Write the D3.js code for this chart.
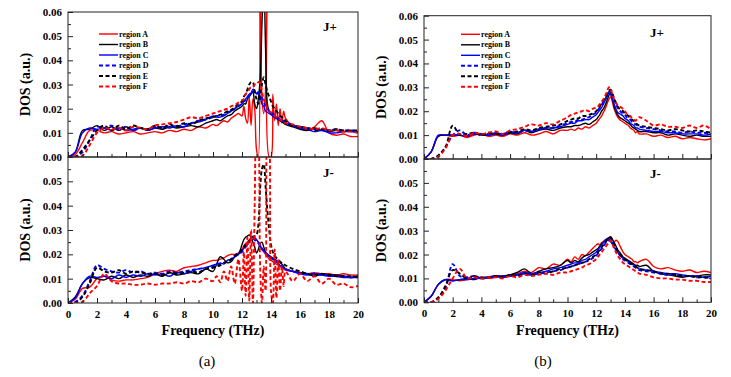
<!DOCTYPE html>
<html>
<head>
<meta charset="utf-8">
<script src="https://cdn.jsdelivr.net/npm/d3@7"></script>
<style>
  body { margin: 0; background: #fff; }
  svg { display: block; font-family: "Liberation Serif", "Times New Roman", serif; }
  .tick text { font-family: "Liberation Serif", "Times New Roman", serif; font-weight: bold; font-size: 11px; fill: #000; }
  .tick line { stroke: #222; }
</style>
</head>
<body>
<div id="chart"></div>
<script>
// frequency grid (THz), finer around the 13 THz peak
var freq = [0, 0.5, 1, 1.5, 2, 2.5, 3, 3.5, 4, 4.5, 5, 5.5, 6, 6.5, 7, 7.5, 8, 8.5, 9, 9.5, 10,
  10.25, 10.5, 10.75, 11, 11.25, 11.5, 11.75, 12,
  12.125, 12.25, 12.375, 12.5, 12.625, 12.75, 12.875, 13, 13.125, 13.25, 13.375, 13.5,
  13.625, 13.75, 13.875, 14, 14.125, 14.25, 14.375, 14.5, 14.625, 14.75, 14.875, 15,
  15.5, 16, 16.5, 17, 17.5, 18, 18.5, 19, 19.5, 20];

// DOS, in units of 0.001 a.u.
// (a) J+
var aPlusA = [0, 1, 6, 11, 11, 10, 10.5, 9.5, 10, 10.5, 9.5, 10, 10.5, 10, 11, 10.5, 11.5, 11, 12.5, 12, 13.5,
  13, 14, 15, 14.5, 16, 17, 18, 17,
  21, 16, 14, 25, 13, 24, 20, 3, 0, 80, 25, 18, 28, 80, 0, 0, 26, 15, 22, 13, 20, 14, 19, 16,
  13, 12, 11, 12.5, 15, 10, 9, 9.5, 8.5, 8.5];
var aPlusB = [0, 2, 11, 11.5, 13, 11, 12.5, 11, 12.5, 11, 12, 11, 12, 11.5, 12.5, 12, 12.5, 13, 12.5, 14, 15,
  15.5, 15, 16, 17, 17.5, 19, 20, 21,
  22, 22, 24, 25, 26, 27, 22, 20, 24, 32, 55, 75, 45, 22, 19, 18, 17, 16.5, 16, 15.5, 15, 14.5, 14, 13.5,
  12.5, 11.5, 11, 12, 11, 10.5, 11, 10.5, 11, 10.5];
var aPlusC = [0, 2, 10, 12, 11.5, 12, 11, 12, 11, 11.5, 12, 11, 12, 12.5, 12, 13, 12.5, 14, 14.5, 15.5, 17,
  16.5, 16.5, 17, 18, 19, 20, 21, 22,
  23, 24, 25, 26, 26.5, 28, 27.5, 26, 27, 25, 22, 21, 19, 18.5, 18, 17.5, 17, 16.5, 16, 15.5, 15.5, 15, 14.5, 14,
  13, 12, 11.5, 10.5, 11, 10, 10, 10.5, 10.5, 10];
var aPlusD = [0, 0, 2, 7, 12.5, 12, 13, 11.5, 12.5, 11, 12, 11.5, 12.5, 12, 13, 12.5, 13.5, 14, 15, 15.5, 16.5,
  17, 17, 17.5, 18.5, 19, 20, 21, 22,
  23, 23.5, 24.5, 25.5, 26.5, 27, 27.5, 27, 26, 25.5, 24.5, 23, 21, 20, 19, 18.5, 18, 17, 16.5, 16, 15.5, 15, 15, 14.5,
  13, 12.5, 12, 11.5, 11, 11, 11.5, 11, 11, 10.5];
var aPlusE = [0, 0, 3, 7, 11, 13, 11, 13, 11.5, 13, 12, 11.5, 13, 12, 13.5, 12.5, 14, 13.5, 15, 16, 16.5,
  17, 17.5, 18, 19, 19.5, 20.5, 22, 23,
  25, 26, 28, 30, 31, 31, 27, 24, 22, 26, 30, 33, 30, 27, 25, 23, 21, 20, 19, 18, 17, 16.5, 16, 15,
  13, 12.5, 12, 11, 11.5, 11, 11.5, 11, 11, 11];
var aPlusF = [0, 0, 0.5, 5, 10, 12, 11.5, 12, 11, 12.5, 12, 11.5, 13, 13.5, 14, 14.5, 15.5, 16.5, 16, 17, 18,
  18.5, 19, 19.5, 20, 21, 21.5, 22.5, 23.5,
  24, 26, 27, 28, 29, 29, 30, 30, 31, 30.5, 27, 24, 22, 20, 19, 18.5, 18, 17, 16.5, 16, 15.5, 15, 14.5, 14,
  13.5, 12.5, 12, 11.5, 12, 11, 11, 10.5, 10.5, 10];

// (a) J-
var aMinusA = [0, 1.5, 6, 6.5, 10, 11, 9.5, 9, 9.5, 9.5, 10, 10.5, 12, 13, 13.5, 13, 14.5, 15, 15.5, 16.5, 17.5,
  17.5, 18, 18.5, 19.5, 20, 20, 20.5, 22,
  23.5, 24.5, 25, 26, 26.5, 26, 26.5, 26, 25, 24, 22, 21, 20, 19, 18, 17.5, 17, 16.5, 16, 15.5, 15, 14.5, 14, 13.5,
  13, 12.5, 12, 12.5, 12, 12, 11.5, 12, 11.5, 11.5];
var aMinusB = [0, 2.5, 8, 10.5, 10, 9.5, 11, 10, 11.5, 10.5, 11.5, 11, 12, 11, 12.5, 11.5, 12, 12.5, 12, 14, 13,
  16, 19, 18, 16.5, 17, 19, 20, 24,
  26, 27, 27.5, 28, 27, 25, 23, 20.5, 22, 24.5, 25, 23, 21, 20, 19.5, 19, 18.5, 18, 17.5, 17, 16.5, 16, 15, 14,
  13, 12.5, 12, 11, 12, 11.5, 11.5, 11, 10.5, 11];
var aMinusC = [0, 2, 8, 11, 10.5, 11, 10, 11.5, 10.5, 11.5, 11, 12, 11.5, 12, 11, 12.5, 12, 13, 14, 14.5, 15.5,
  16, 16.5, 16, 17.5, 18, 19, 20, 21.5,
  22.5, 23.5, 24.5, 25.5, 26.5, 27.5, 27, 26, 25, 23.5, 22, 21.5, 20.5, 20, 19, 18.5, 18, 17.5, 17, 16, 15.5, 15, 14.5, 14,
  13, 12, 11.5, 12, 11.5, 11, 11, 10.5, 10.5, 10.5];
var aMinusD = [0, 0.5, 3, 9, 15.5, 14, 13, 12.5, 13.5, 12.5, 13, 12, 12.5, 12, 13, 12.5, 13, 13.5, 14, 14.5, 15,
  15.5, 16, 16.5, 17, 18, 19, 20, 21,
  22, 23, 24, 25, 26, 26.5, 26, 25, 24.5, 23.5, 22.5, 21.5, 20.5, 20, 19, 18.5, 18, 17.5, 17, 16.5, 16, 15, 14.5, 14,
  13, 12.5, 12, 12, 11.5, 11.5, 11, 11, 10.5, 11];
var aMinusE = [0, 0, 2.5, 8, 14.5, 13, 12.5, 13.5, 12, 13, 12.5, 12, 12, 11.5, 12.5, 12, 12.5, 13, 12.5, 14, 14.5,
  15, 15.5, 16.5, 17, 18, 19.5, 20.5, 22,
  23, 24, 25, 25.5, 26, 27, 27.5, 28, 32, 47, 55, 57, 48, 38, 30, 24, 21, 19.5, 18.5, 18, 17, 16.5, 16, 15.5,
  14, 13, 12, 11.5, 12, 11.5, 11, 11, 11, 10.5];
var aMinusF = [0, 0, 0.5, 4, 7, 12, 9, 8, 8, 7.5, 7.5, 8, 7.5, 8, 8, 8.5, 8, 9, 8.5, 10, 9,
  11, 8.5, 13, 9, 15, 8, 18, 5,
  21, 3, 27, 1, 30, 0, 40, 75, 70, 15, 0, 15, 5, 75, 70, 5, 0, 22, 2, 18, 5, 15, 7, 13,
  9, 12, 9, 11, 8, 10, 7.5, 8, 6.5, 7];

// (b) J+
var bPlusA = [0, 3, 9.5, 10, 9.5, 10, 9, 10, 10.5, 9.5, 10, 9.5, 10.5, 10, 11, 10, 10.5, 11.5, 10.5, 12, 12,
  12.5, 12, 13, 12.5, 13.5, 13, 14, 15,
  16, 17, 18, 19.5, 21, 23, 25, 26, 24, 21, 19, 17.5, 16.5, 16, 15.5, 15, 14.5, 14, 13, 12.5, 12, 11, 11.5, 10.5,
  10.5, 9.5, 10, 9, 9.5, 8.5, 9, 8.5, 8, 8.5];
var bPlusB = [0, 3, 9.5, 10, 10, 10, 9.5, 10.5, 10, 10, 10.5, 10, 11, 10.5, 12, 11, 12, 12.5, 12, 13, 13.5,
  13.5, 14, 14, 14.5, 15, 14.5, 15.5, 16.5,
  17.5, 18.5, 20, 21, 22.5, 24.5, 26.5, 28, 25.5, 22, 20, 18.5, 17.5, 17, 16.5, 16, 15.5, 15, 14.5, 13.5, 13, 12.5, 12, 11.5,
  11.5, 11, 11, 10, 10.5, 10, 9.5, 10, 9.5, 9.5];
var bPlusC = [0, 3, 10, 10, 10, 10, 9.5, 10.5, 10.5, 10, 11, 10.5, 11.5, 11, 12, 11.5, 12.5, 13, 13, 13.5, 14.5,
  15, 15, 16, 16, 16.5, 16.5, 17.5, 18.5,
  19.5, 20.5, 21.5, 23, 24.5, 26, 27.5, 27, 25, 23, 21, 19.5, 19, 18.5, 18, 17, 16.5, 16, 15, 14.5, 14, 13, 13, 12.5,
  12, 11.5, 11.5, 11, 11, 10.5, 10.5, 10.5, 10, 10.5];
var bPlusD = [0, 0, 1.5, 5, 10, 12, 10, 11, 10.5, 10.5, 10.5, 10, 11, 11, 12, 11.5, 12.5, 13, 13, 14, 15,
  15.5, 15.5, 16.5, 16.5, 17, 17.5, 18.5, 19.5,
  20.5, 21.5, 22.5, 24, 25, 26.5, 28, 28.5, 27, 25, 23, 21.5, 20.5, 19.5, 19, 18.5, 17.5, 17, 16.5, 15.5, 15, 14.5, 14, 13.5,
  13, 12.5, 12, 11.5, 11.5, 11, 11.5, 11, 11, 10.5];
var bPlusE = [0, 0, 1.5, 5, 14, 10, 10.5, 11, 10, 11, 10.5, 10.5, 11, 11.5, 12.5, 12, 13, 13.5, 14, 14.5, 16,
  16.5, 17, 17, 18, 18, 18.5, 19, 20,
  21, 22, 23.5, 24.5, 25.5, 27, 28.5, 29, 27.5, 25.5, 23.5, 22, 21, 20.5, 20, 19, 18.5, 18, 17, 16.5, 16, 15, 14.5, 14,
  13.5, 13, 12.5, 12, 12.5, 12, 11.5, 12, 11.5, 11];
var bPlusF = [0, 0, 1, 4.5, 10, 10.5, 9.5, 11, 10.5, 11, 11.5, 10.5, 12, 12.5, 13.5, 14.5, 14, 15, 14.5, 16, 17.5,
  18.5, 19, 19.5, 20, 20.5, 20, 21, 21.5,
  22, 23, 24, 25, 26.5, 28, 30, 29.5, 27, 25, 23.5, 22.5, 22, 21.5, 21, 20, 19, 18.5, 18, 17, 16.5, 16, 17, 17.5,
  16, 14, 14.5, 13.5, 13.5, 13, 14, 13, 14, 12.5];

// (b) J-
var bMinusA = [0, 2.5, 7.5, 9.5, 9.5, 9, 9.5, 10, 10.5, 10, 10.5, 11, 11.5, 12, 13, 12.5, 14.5, 14, 16, 15.5, 18,
  17, 19, 18, 20, 19.5, 21, 22.5, 24,
  24.5, 24, 25, 25.5, 26, 26.5, 27, 26, 24.5, 25, 26, 25.5, 24, 22.5, 21, 20, 19.5, 19, 18.5, 18, 17, 17, 16.5, 17,
  18, 15, 14, 14.5, 13.5, 13, 13.5, 12.5, 13, 12.5];
var bMinusB = [0, 2.5, 7.5, 9.5, 9, 9.5, 10, 9.5, 10.5, 10.5, 11, 11, 11.5, 12.5, 14, 12, 13, 14, 14.5, 15.5, 17.5,
  16.5, 17.5, 17, 18.5, 19.5, 20, 21, 22,
  22.5, 23.5, 24.5, 25, 26, 26.5, 27, 27.5, 26.5, 25, 23.5, 22, 21, 20, 19, 18.5, 18, 17.5, 17, 16.5, 16, 15.5, 15.5, 15,
  15.5, 13, 12, 11.5, 11, 10.5, 11, 11, 11.5, 11.5];
var bMinusC = [0, 2.5, 7.5, 9.5, 9, 9.5, 9.5, 10, 10, 10.5, 10.5, 11, 11, 11.5, 12.5, 12, 12.5, 13, 14, 14.5, 15.5,
  16, 16.5, 16.5, 17.5, 18, 19, 20, 21,
  22, 23, 24, 25, 26, 26.5, 26, 25.5, 24.5, 23, 22, 21, 20, 19, 18.5, 18, 17.5, 17, 16.5, 16, 15.5, 15, 14.5, 14,
  13.5, 13, 12.5, 12, 12, 11.5, 11, 11, 10.5, 11];
var bMinusD = [0, 0, 2, 6, 16, 11, 10.5, 11, 10, 10.5, 11, 10.5, 11, 11.5, 12, 11.5, 12, 12.5, 13, 13.5, 14.5,
  15, 15.5, 16, 16.5, 17, 17.5, 18.5, 19.5,
  20.5, 21.5, 22.5, 23.5, 24.5, 25.5, 26, 26.5, 25.5, 24, 22.5, 21, 20, 19, 18, 17.5, 17, 16.5, 16, 15.5, 15, 14.5, 14, 13.5,
  13, 12.5, 12, 11.5, 11.5, 11, 11, 10.5, 10.5, 10];
var bMinusE = [0, 0, 2, 7, 13.5, 12, 10, 11, 10, 10.5, 11, 10.5, 11.5, 11, 12, 11.5, 12.5, 12, 13, 14, 14.5,
  15, 15.5, 16, 16.5, 17, 18, 19, 20,
  21, 22, 23, 24, 25, 26, 26.5, 27, 26, 24.5, 23, 21.5, 20.5, 19.5, 18.5, 18, 17.5, 17, 16.5, 16, 15.5, 15, 14.5, 14,
  13.5, 13, 12, 12, 11.5, 11, 11, 10.5, 10.5, 10];
var bMinusF = [0, 0, 1.5, 5, 10, 14, 10, 10.5, 10, 10.5, 10.5, 10, 11, 10.5, 11.5, 11, 11.5, 12, 11.5, 12.5, 12.5,
  13, 13.5, 14, 14.5, 15.5, 16, 17, 18,
  19, 20, 21, 22, 23, 24, 25, 26, 24.5, 22.5, 21, 19.5, 18.5, 17.5, 16.5, 16, 15.5, 15, 14.5, 14, 13.5, 13, 12.5, 12,
  11.5, 10.5, 10, 10, 9.5, 9.5, 9, 9, 8.5, 8.5];

var regionNames = ["region A", "region B", "region C", "region D", "region E", "region F"];
var regionColors = ["#ff0000", "#000000", "#0000ff", "#0000ff", "#000000", "#ff0000"];
var regionDashed = [false, false, false, true, true, true];
var yTicks = [0, 0.01, 0.02, 0.03, 0.04, 0.05, 0.06];
var yMinor = [0.005, 0.015, 0.025, 0.035, 0.045, 0.055];
var xTicks = [0, 2, 4, 6, 8, 10, 12, 14, 16, 18, 20];
var xMinor = [1, 3, 5, 7, 9, 11, 13, 15, 17, 19];

var width = 731, height = 377;
var svg = d3.select("#chart").append("svg")
  .attr("width", width)
  .attr("height", height);

// layout of the two figures
var panels = [
  { left: 68, right: 358, top: 12, mid: 157, bottom: 303, caption: "(a)", capX: 207,
    yLabelX: 25, legendX: 99, legendY: 34, tagX: 323, tagPlusY: 31, tagMinusY: 177,
    plus: [aPlusA, aPlusB, aPlusC, aPlusD, aPlusE, aPlusF],
    minus: [aMinusA, aMinusB, aMinusC, aMinusD, aMinusE, aMinusF] },
  { left: 424, right: 711, top: 15.7, mid: 159, bottom: 302.3, caption: "(b)", capX: 543,
    yLabelX: 381, legendX: 461, legendY: 34.3, tagX: 650, tagPlusY: 37, tagMinusY: 178,
    plus: [bPlusA, bPlusB, bPlusC, bPlusD, bPlusE, bPlusF],
    minus: [bMinusA, bMinusB, bMinusC, bMinusD, bMinusE, bMinusF] }
];

var clipCount = 0;

function drawSub(p, y0, y1, series, tag, tagY, isBottom) {
  var x = d3.scaleLinear().domain([0, 20]).range([p.left, p.right]);
  var y = d3.scaleLinear().domain([0, 0.06]).range([y1, y0]);
  var g = svg.append("g");

  var clipId = "clip" + (clipCount++);
  svg.append("clipPath").attr("id", clipId)
    .append("rect")
    .attr("x", p.left).attr("y", y0)
    .attr("width", p.right - p.left).attr("height", y1 - y0);

  var line = d3.line()
    .x(function(d) { return x(d[0]); })
    .y(function(d) { return y(d[1]); })
    .curve(d3.curveCatmullRom.alpha(0.5));

  var lines = g.append("g").attr("clip-path", "url(#" + clipId + ")");
  series.forEach(function(vals, i) {
    var pts = freq.map(function(f, k) { return [f, vals[k] / 1000]; });
    lines.append("path")
      .datum(pts)
      .attr("d", line)
      .attr("fill", "none")
      .attr("stroke", regionColors[i])
      .attr("stroke-width", regionDashed[i] ? 1.9 : 1.4)
      .attr("stroke-dasharray", regionDashed[i] ? "4,2.5" : null);
  });

  // y axis, ticks pointing inward
  var yAxis = d3.axisLeft(y)
    .tickValues(isBottom ? yTicks.slice(0, 6) : yTicks)
    .tickFormat(d3.format(".2f"))
    .tickSizeInner(-5).tickSizeOuter(0).tickPadding(6);
  g.append("g").attr("transform", "translate(" + p.left + ",0)").call(yAxis)
    .call(function(s) { s.select(".domain").remove(); });
  g.append("g").attr("transform", "translate(" + p.left + ",0)")
    .call(d3.axisLeft(y).tickValues(yMinor).tickFormat("").tickSizeInner(-3).tickSizeOuter(0))
    .call(function(s) { s.select(".domain").remove(); });

  // x axis
  var xAxis = d3.axisBottom(x).tickValues(xTicks)
    .tickSizeInner(-5).tickSizeOuter(0).tickPadding(7);
  if (!isBottom) xAxis.tickFormat("");
  g.append("g").attr("transform", "translate(0," + y1 + ")").call(xAxis)
    .call(function(s) { s.select(".domain").remove(); });
  g.append("g").attr("transform", "translate(0," + y1 + ")")
    .call(d3.axisBottom(x).tickValues(xMinor).tickFormat("").tickSizeInner(-3).tickSizeOuter(0))
    .call(function(s) { s.select(".domain").remove(); });

  // frame
  g.append("rect")
    .attr("x", p.left).attr("y", y0)
    .attr("width", p.right - p.left).attr("height", y1 - y0)
    .attr("fill", "none").attr("stroke", "#222").attr("stroke-width", 1);

  g.append("text")
    .attr("x", p.tagX).attr("y", tagY)
    .attr("font-size", 13).attr("font-weight", "bold")
    .text(tag);

  g.append("text")
    .attr("transform", "translate(" + p.yLabelX + "," + ((y0 + y1) / 2) + ")rotate(-90)")
    .attr("text-anchor", "middle")
    .attr("dominant-baseline", "central")
    .attr("font-size", 14).attr("font-weight", "bold")
    .text("DOS (a.u.)");
}

panels.forEach(function(p) {
  drawSub(p, p.top, p.mid, p.plus, "J+", p.tagPlusY, false);
  drawSub(p, p.mid, p.bottom, p.minus, "J-", p.tagMinusY, true);

  // legend
  var leg = svg.append("g");
  regionNames.forEach(function(name, i) {
    var ly = p.legendY + i * 10.5;
    leg.append("line")
      .attr("x1", p.legendX).attr("x2", p.legendX + 19)
      .attr("y1", ly).attr("y2", ly)
      .attr("stroke", regionColors[i])
      .attr("stroke-width", regionDashed[i] ? 1.9 : 1.4)
      .attr("stroke-dasharray", regionDashed[i] ? "4,2.5" : null);
    leg.append("text")
      .attr("x", p.legendX + 20).attr("y", ly)
      .attr("dominant-baseline", "central")
      .attr("font-size", 8).attr("font-weight", "bold")
      .text(name);
  });

  svg.append("text")
    .attr("x", (p.left + p.right) / 2).attr("y", 335)
    .attr("text-anchor", "middle")
    .attr("font-size", 14).attr("font-weight", "bold")
    .text("Frequency (THz)");

  svg.append("text")
    .attr("x", p.capX).attr("y", 366)
    .attr("text-anchor", "middle")
    .attr("font-size", 15)
    .text(p.caption);
});
</script>
</body>
</html>
